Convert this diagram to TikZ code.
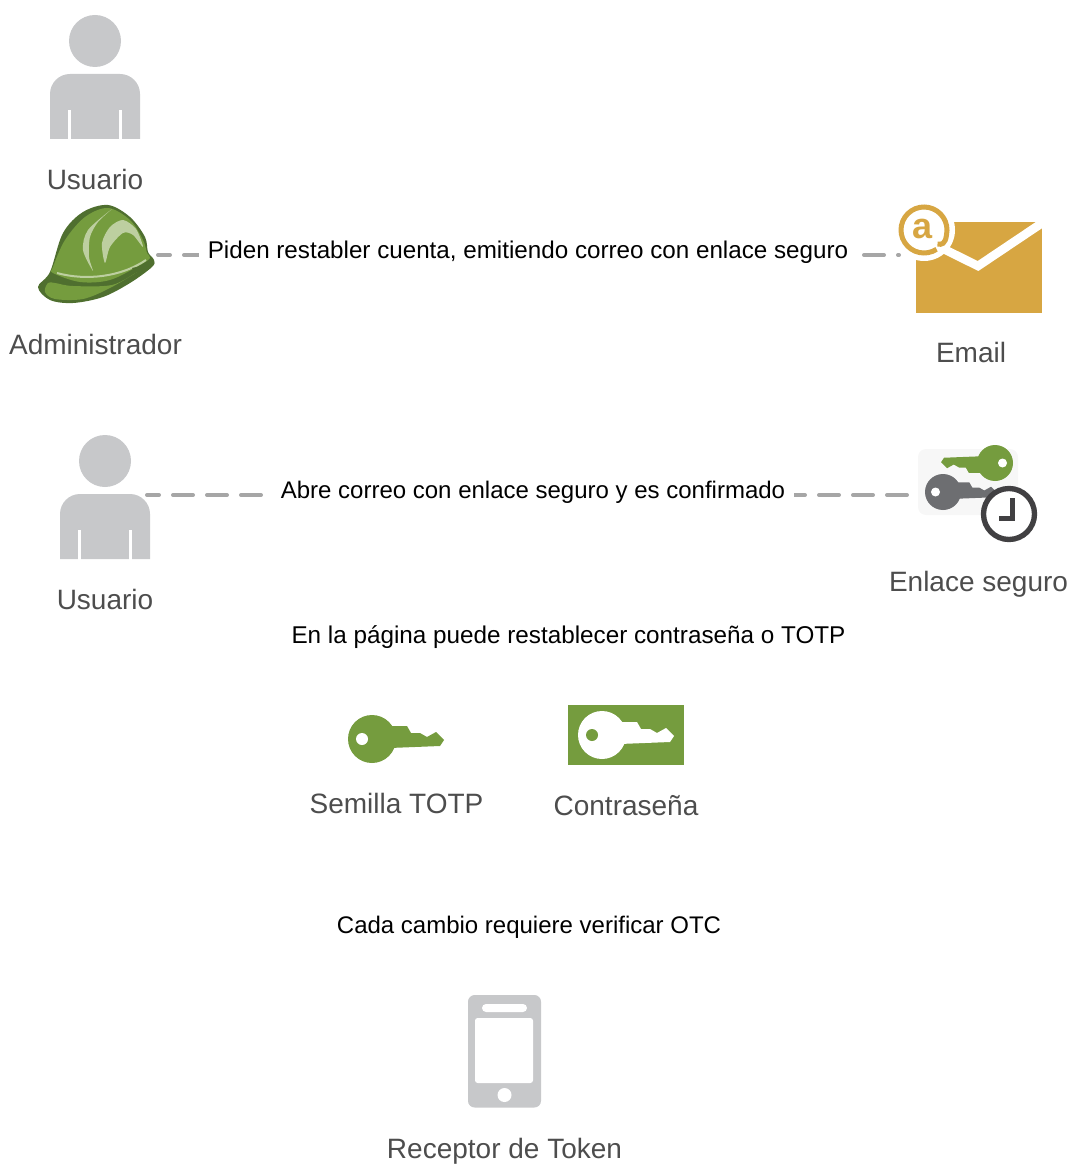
\documentclass[tikz,border=0pt]{standalone}
\usepackage{fontspec}
\setmainfont{Liberation Sans}
\usepackage{tikz}
\usetikzlibrary{calc}
\definecolor{iconGray}{HTML}{C7C8CA}
\definecolor{keyGray}{HTML}{6D6E71}
\definecolor{keyGreen}{HTML}{759C3E}
\definecolor{hatDark}{HTML}{4F6F2F}
\definecolor{hatLight}{HTML}{BDCFA0}
\definecolor{mailGold}{HTML}{D7A642}
\definecolor{clockDark}{HTML}{414042}
\definecolor{lineGray}{HTML}{A6A6A6}
\definecolor{labelGray}{HTML}{4D4D4D}
\tikzset{
    icon/.style={inner sep=0pt, outer sep=0pt},
    label/.style={anchor=base, text=labelGray, font=\fontsize{21}{25}\selectfont},
    note/.style={anchor=base, text=black, font=\fontsize{18}{22}\selectfont},
    linenote/.style={note, fill=white, inner xsep=6.75pt, inner ysep=2pt},
    link/.style={draw=lineGray, line width=3pt, line cap=round, dash pattern=on 15pt off 10.5pt},
    pics/personicon/.style={code={
        \fill[iconGray] (0,-34) circle (26);
        \fill[iconGray] (-45,64) [rounded corners=15pt] -- (-45,-1) -- (45,-1) [sharp corners] -- (45,64) -- cycle;
        \fill[white] (-27,35) rectangle (-24,65);
        \fill[white] (24,35) rectangle (27,65);
    }},
    pics/keyicon/.style 2 args={code={
        \fill[#1] (0,0) circle (24);
        \fill[#1] (18,-13) -- (35,-13) -- (39,-6) -- (48,-6) -- (55,-2) -- (64,-7) -- (72,1) -- (68,7) -- (18,9) -- cycle;
        \fill[#2] (-10,0) circle (6);
    }},
    pics/hardhat/.style={code={
        \fill[hatDark] plot[smooth cycle, tension=.55] coordinates {(-58,32) (-46,17) (-33,-22) (-13,-43) (12,-50) (34,-38) (49,-18) (52,-3) (58,5) (56,12) (34,28) (7,42) (-23,48) (-46,45)};
        \fill[keyGreen] plot[smooth cycle, tension=.55] coordinates {(-43,12) (-31,-15) (-11,-38) (12,-47) (34,-35) (47,-15) (51,-2) (54,3) (44,10) (14,25) (-16,27) (-43,18)};
        \fill[keyGreen] plot[smooth cycle, tension=.55] coordinates {(-48,28) (-51,37) (-41,44) (-13,44) (14,33) (41,17) (16,30) (-23,31) (-41,28)};
        \fill[hatLight] plot[smooth cycle, tension=.5] coordinates {(16,-46) (-8,-25) (-13,-5) (-3,16) (-7,2) (-6,-18) (2,-33)};
        \fill[hatLight] plot[smooth cycle, tension=.5] coordinates {(9,8) (6,-12) (14,-28) (27,-35) (40,-26) (47,-8) (37,-20) (27,-22) (14,-8)};
        \draw[hatLight, line width=1.5pt] (-39,18) .. controls (-10,26) and (25,22) .. (50,5);
        \fill[hatDark] (36,13) -- (41,12) -- (40,20) -- cycle;
    }},
    pics/mailicon/.style={code={
        \fill[mailGold] (-54.5,-33) rectangle (71.5,58);
        \draw[white, line width=6.5pt] (-45,-15) -- (7.5,11) -- (80.5,-38);
        \fill[white] (-46.5,-25) circle (31);
        \draw[mailGold, line width=3.75pt] (-46.5,-25) ++(57:23) arc[start angle=57, end angle=372, radius=23] .. controls (-25,-11) and (-29,-10) .. (-33,-11);
        \node[icon, text=mailGold, font=\fontsize{27}{27}\selectfont\bfseries] (atsign) at (-48,-26) {a};
    }},
    pics/securekeys/.style={code={
        \fill[black!3, rounded corners=6pt] (-60,-46) rectangle (40,20);
        \pic[scale=-.75] at (17,-32) {keyicon={keyGreen}{white}};
        \pic[scale=.75] at (-35,-3) {keyicon={keyGray}{white}};
        \draw[clockDark, line width=4pt, fill=white] (31,19) circle (25.5);
        \draw[clockDark, line width=3.75pt] (34,3) -- (34,23) -- (21,23);
    }},
    pics/phoneicon/.style={code={
        \fill[iconGray, rounded corners=5pt] (-36.5,-56) rectangle (36.5,56.5);
        \fill[white, rounded corners=3pt] (-22.5,-47) rectangle (22.5,-39);
        \fill[white, rounded corners=2pt] (-29.5,-33) rectangle (28.5,32);
        \fill[white] (0,44) circle (7);
    }}
}
\begin{document}
\begin{tikzpicture}[x=0.75pt, y=-0.75pt]
    \useasboundingbox (0,0) rectangle (1077,1176);

    \node [icon, minimum width=67.5pt, minimum height=100pt] (Usuario) at (95,75) {};
    \node [icon, minimum width=93pt, minimum height=75pt] (Admin) at (96,255) {};
    \node [icon, minimum width=107.25pt, minimum height=75pt] (Email) at (970.5,255) {};
    \node [icon, minimum width=63pt, minimum height=100pt] (Cuenta) at (105,495) {};
    \node [icon, minimum width=90pt, minimum height=75pt] (Enlace) at (978,495) {};
    \node [icon, minimum width=72pt, minimum height=36pt] (Semilla) at (396,739) {};
    \node [icon, minimum width=87pt, minimum height=45pt] (Clave) at (626,735) {};
    \node [icon, minimum width=55pt, minimum height=84pt] (Token) at (504.5,1051) {};

    % lines first, the icons go on top
    \draw [link, dash phase=6pt] (Admin.east) -- (Email.west);
    \draw [link, dash phase=6pt] (Cuenta.east) -- (Enlace.west);

    \pic at (Usuario) {personicon};
    \pic at (Admin) {hardhat};
    \pic at (Email) {mailicon};
    \pic at (Cuenta) {personicon};
    \pic at (Enlace) {securekeys};
    \pic at (372,739) {keyicon={keyGreen}{white}};
    \fill [keyGreen] (Clave.center) ++(-58,-30) rectangle ++(116,60);
    \pic at (602,735) {keyicon={white}{keyGreen}};
    \pic at (Token) {phoneicon};

    \node [label] (UsuarioText) at (95,190) {Usuario};
    \node [label] (AdminText) at (95.5,354) {Administrador};
    \node [label] (EmailText) at (971,363) {Email};
    \node [label] (CuentaText) at (105,609) {Usuario};
    \node [label] (EnlaceText) at (978.5,591) {Enlace seguro};
    \node [label] (SemillaText) at (396.5,813) {Semilla TOTP};
    \node [label] (ClaveText) at (626,815) {Contraseña};
    \node [label] (TokenText) at (504.5,1158) {Receptor de Token};

    \node [linenote, font=\fontsize{18.15}{22}\selectfont] (PidenText) at (528,259) {Piden restabler cuenta, emitiendo correo con enlace seguro};
    \node [linenote] (AbreText) at (533,498) {Abre correo con enlace seguro y es confirmado};
    \node [note, font=\fontsize{18.2}{22}\selectfont] (PaginaText) at (568.5,643) {En la página puede restablecer contraseña o TOTP};
    \node [note] (CambioText) at (529,933) {Cada cambio requiere verificar OTC};
\end{tikzpicture}
\end{document}
